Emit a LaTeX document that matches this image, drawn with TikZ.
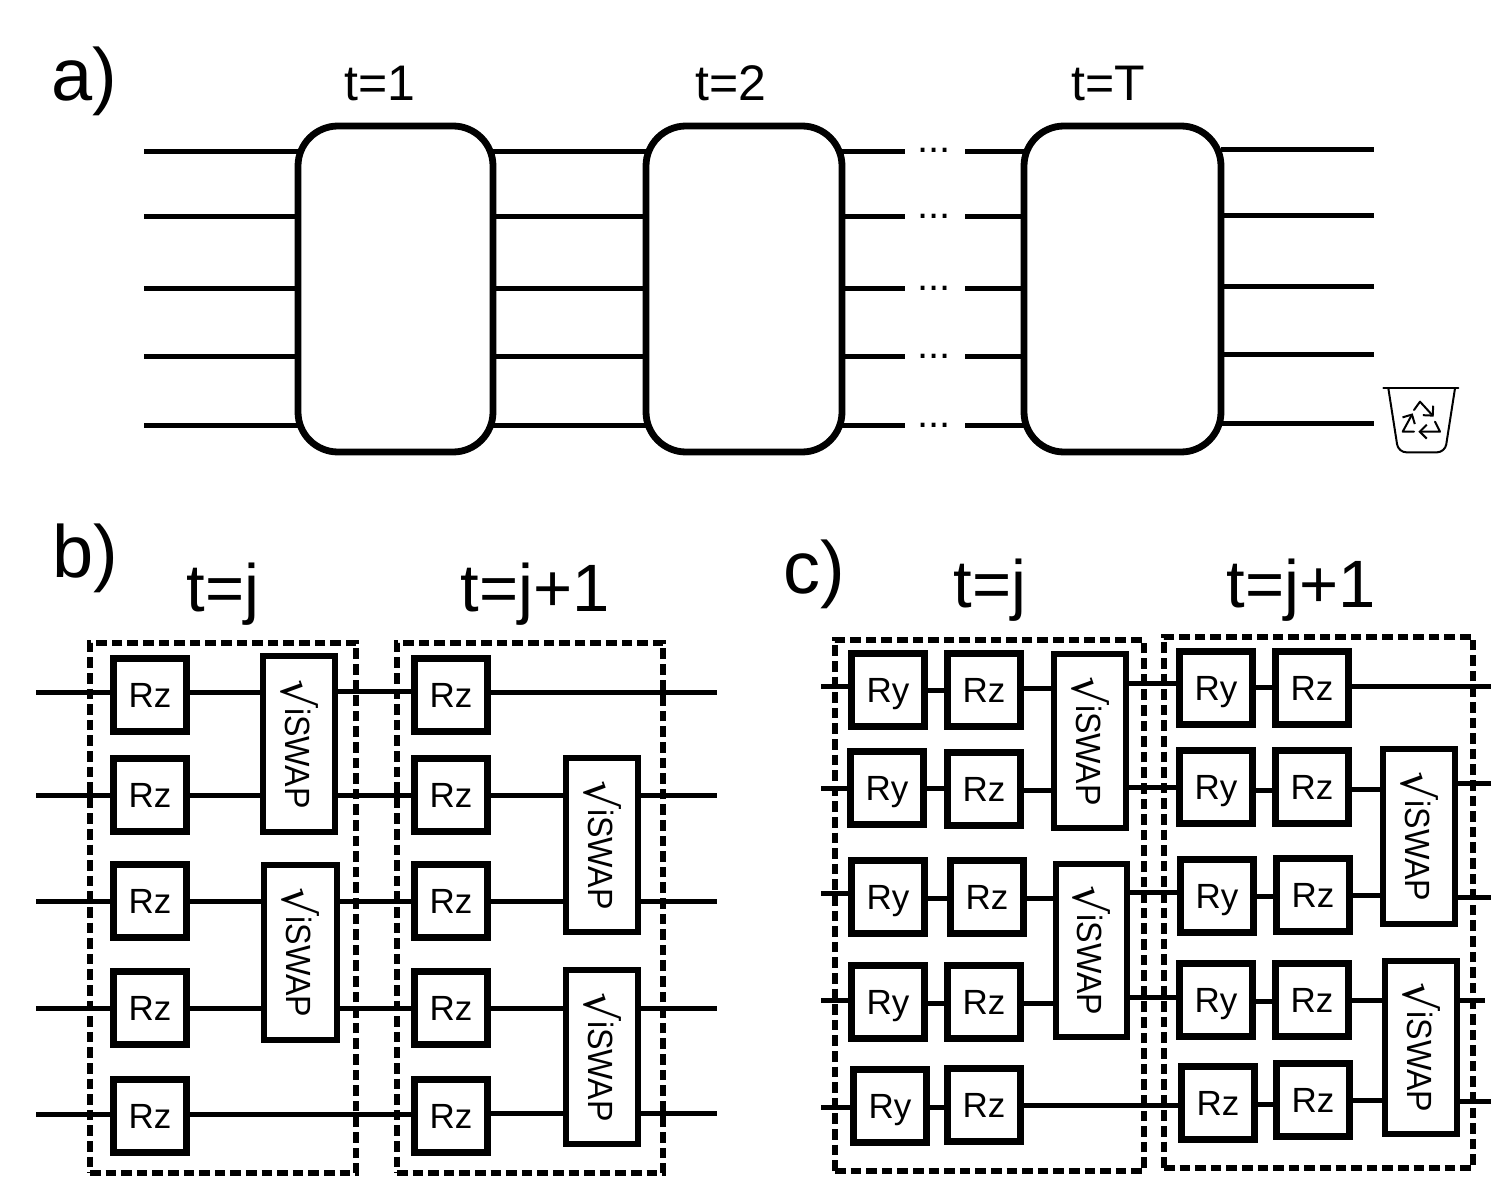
\documentclass[tikz,border=0pt]{standalone}
\usepackage{fontspec}
\setmainfont{Liberation Sans}
\newfontfamily\symfont{DejaVu Sans}
\usetikzlibrary{fit,arrows.meta}
\tikzset{
  x=0.5pt,y=-0.5pt,
  gatebox/.style={draw=black,fill=white,line width=3.3pt,inner sep=0pt,outer sep=0pt,
     font=\fontsize{17.5}{20}\selectfont,text height=12.5pt,text depth=0pt},
  rzbox/.style={gatebox,minimum width=36.5pt,minimum height=36.5pt},
  swapbox/.style={gatebox,text height=0pt,text depth=0pt,font=\fontsize{17.5}{20}\selectfont},
  bigbox/.style={draw=black,fill=white,line width=3.4pt,rounded corners=20pt,inner sep=0pt,outer sep=0pt},
  dashbox/.style={draw=black,line width=2.6pt,dash pattern=on 5.3pt off 2.5pt,inner sep=0pt,outer sep=0pt},
  wire/.style={draw=black,line width=2.5pt},
  title/.style={inner sep=0pt,font=\fontsize{25}{30}\selectfont},
  bigtitle/.style={inner sep=0pt,font=\fontsize{33.5}{40}\selectfont},
  panel/.style={inner sep=0pt,font=\fontsize{37}{44}\selectfont},
  dotlabel/.style={inner sep=0pt,anchor=base,font=\fontsize{20}{22}\selectfont},
  binline/.style={draw=black,line width=1pt,line cap=round,line join=round},
  binarrow/.style={binline,-{Straight Barb[length=3.5pt,width=7pt,line width=1pt]}}
}
\newcommand\gateNode[4]{\node[rzbox] (#1) at (#2,#3) {#4};}
\newcommand\swapNode[5]{\node[swapbox,fit={(#2,#3)(#4,#5)}] (#1) {\rotatebox{-90}{\raisebox{-1pt}{\scalebox{1.3}[1.3]{\symfont √}}\raisebox{1pt}{\scalebox{.92}[1]{iSWAP}}}};}
\newcommand\wire[3]{\draw[wire] (#1 |- 0,#3) -- (#2 |- 0,#3);}
\newcommand\dashNode[5]{\node[dashbox,fit={(#2,#3)(#4,#5)}] (#1) {};}
\newcommand\bigNode[5]{\node[bigbox,fit={(#2,#3)(#4,#5)}] (#1) {};}
\begin{document}
\begin{tikzpicture}
\useasboundingbox (0,0) rectangle (1493,1177);
% panel labels
\node[panel] (la) at (84,81) {a)};
\node[panel] (lb) at (85,558) {b)};
\node[panel] (lc) at (814,574) {c)};
% ---------- panel a
\node[title] (t1) at (380,83) {t=1};
\node[title] (t2) at (731,83) {t=2};
\node[title] (tT) at (1108,83) {t=T};
\bigNode{A1}{298}{126}{493}{452}
\bigNode{A2}{646}{126}{842}{452}
\bigNode{A3}{1024}{126}{1221}{452}
\coordinate (aL) at (144,0);
\coordinate (aR) at (1374,0);
\coordinate (dL) at (905,0);
\coordinate (dR) at (965,0);
\foreach \y in {151,216,288,356,425}{
  \wire{aL}{A1.west}{\y}
  \wire{A1.east}{A2.west}{\y}
  \wire{A2.east}{dL}{\y}
  \wire{dR}{A3.west}{\y}
  \node[dotlabel] at (934,\y+2) {...};
}
\foreach \y in {149,215,286,354,423}{
  \wire{A3.east}{aR}{\y}
}
% recycle bin
\begin{scope}[shift={(1340,360)},scale=1/3]
  \draw[binline] (130,85) -- (355,85);
  \draw[binline,rounded corners=4pt] (145,85) -- (175,277) -- (315,277) -- (345,85);
  \draw[binarrow] (222,215) -- (188,215) -- (218,160);
  \draw[binarrow] (222,150) -- (240,125) -- (281,170);
  \draw[binarrow] (285,185) -- (300,215) -- (235,215);
\end{scope}
% ---------- panel b
\node[bigtitle] (bt1) at (223,594) {t=j};
\node[bigtitle] (bt2) at (535,594) {t=j+1};
\dashNode{BD1}{90}{643}{356}{1173}
\dashNode{BD2}{397}{643}{663}{1173}
\gateNode{b11}{150}{695}{Rz}
\gateNode{b12}{150}{795}{Rz}
\gateNode{b13}{150}{901}{Rz}
\gateNode{b14}{150}{1008}{Rz}
\gateNode{b15}{150}{1116}{Rz}
\gateNode{b21}{451}{695}{Rz}
\gateNode{b22}{451}{795}{Rz}
\gateNode{b23}{451}{901}{Rz}
\gateNode{b24}{451}{1008}{Rz}
\gateNode{b25}{451}{1116}{Rz}
\swapNode{bs1}{263}{656}{335}{832}
\swapNode{bs2}{264}{865}{337}{1040}
\swapNode{bs3}{566}{758}{638}{932}
\swapNode{bs4}{566}{970}{638}{1144}
\coordinate (bL) at (36,0);
\coordinate (bR) at (717,0);
\wire{bL}{b11.west}{692}
\wire{bL}{b12.west}{795}
\wire{bL}{b13.west}{901}
\wire{bL}{b14.west}{1008}
\wire{bL}{b15.west}{1114}
\wire{b11.east}{bs1.west}{692}
\wire{b12.east}{bs1.west}{795}
\wire{b13.east}{bs2.west}{901}
\wire{b14.east}{bs2.west}{1008}
\wire{b15.east}{b25.west}{1114}
\wire{bs1.east}{b21.west}{691}
\wire{bs1.east}{b22.west}{795}
\wire{bs2.east}{b23.west}{901}
\wire{bs2.east}{b24.west}{1008}
\wire{b21.east}{bR}{692}
\wire{b22.east}{bs3.west}{795}
\wire{b23.east}{bs3.west}{901}
\wire{b24.east}{bs4.west}{1008}
\wire{b25.east}{bs4.west}{1113}
\wire{bs3.east}{bR}{795}
\wire{bs3.east}{bR}{901}
\wire{bs4.east}{bR}{1008}
\wire{bs4.east}{bR}{1113}
% ---------- panel c
\node[bigtitle] (ct1) at (990,590) {t=j};
\node[bigtitle] (ct2) at (1301,590) {t=j+1};
\dashNode{CD1}{835}{640}{1144}{1171}
\dashNode{CD2}{1164}{637}{1473}{1168}
\gateNode{c11}{888}{690}{Ry}
\gateNode{c21}{887}{788}{Ry}
\gateNode{c31}{888}{897}{Ry}
\gateNode{c41}{888}{1002}{Ry}
\gateNode{c51}{890}{1106}{Ry}
\gateNode{c12}{984}{690}{Rz}
\gateNode{c22}{984}{789}{Rz}
\gateNode{c32}{987}{897}{Rz}
\gateNode{c42}{984}{1002}{Rz}
\gateNode{c52}{984}{1105}{Rz}
\swapNode{cs1}{1054}{654}{1126}{828}
\swapNode{cs2}{1056}{864}{1127}{1037}
\gateNode{c13}{1216}{688}{Ry}
\gateNode{c23}{1216}{787}{Ry}
\gateNode{c33}{1217}{896}{Ry}
\gateNode{c43}{1216}{1000}{Ry}
\gateNode{c53}{1218}{1103}{Rz}
\gateNode{c14}{1312}{688}{Rz}
\gateNode{c24}{1312}{787}{Rz}
\gateNode{c34}{1313}{895}{Rz}
\gateNode{c44}{1312}{1000}{Rz}
\gateNode{c54}{1313}{1100}{Rz}
\swapNode{cs3}{1383}{749}{1455}{924}
\swapNode{cs4}{1385}{961}{1457}{1134}
\coordinate (cL) at (821,0);
\coordinate (cR1) at (1491,0);
\coordinate (cR2) at (1485,0);
\wire{cL}{c11.west}{686}
\wire{cL}{c21.west}{788}
\wire{cL}{c31.west}{893}
\wire{cL}{c41.west}{1000}
\wire{cL}{c51.west}{1107}
\wire{c11.east}{c12.west}{690}
\wire{c21.east}{c22.west}{788}
\wire{c31.east}{c32.west}{898}
\wire{c41.east}{c42.west}{1003}
\wire{c51.east}{c52.west}{1107}
\wire{c12.east}{cs1.west}{688}
\wire{c22.east}{cs1.west}{790}
\wire{c32.east}{cs2.west}{898}
\wire{c42.east}{cs2.west}{1003}
\wire{c52.east}{c53.west}{1105}
\wire{cs1.east}{c13.west}{683}
\wire{cs1.east}{c23.west}{787}
\wire{cs2.east}{c33.west}{892}
\wire{cs2.east}{c43.west}{997}
\wire{c13.east}{c14.west}{687}
\wire{c23.east}{c24.west}{790}
\wire{c33.east}{c34.west}{896}
\wire{c43.east}{c44.west}{1001}
\wire{c53.east}{c54.west}{1104}
\wire{c14.east}{cR1}{686}
\wire{c24.east}{cs3.west}{789}
\wire{c34.east}{cs3.west}{895}
\wire{c44.east}{cs4.west}{1000}
\wire{c54.east}{cs4.west}{1100}
\wire{cs3.east}{cR1}{783}
\wire{cs3.east}{cR1}{897}
\wire{cs4.east}{cR2}{1000}
\wire{cs4.east}{cR1}{1101}
\end{tikzpicture}
\end{document}
